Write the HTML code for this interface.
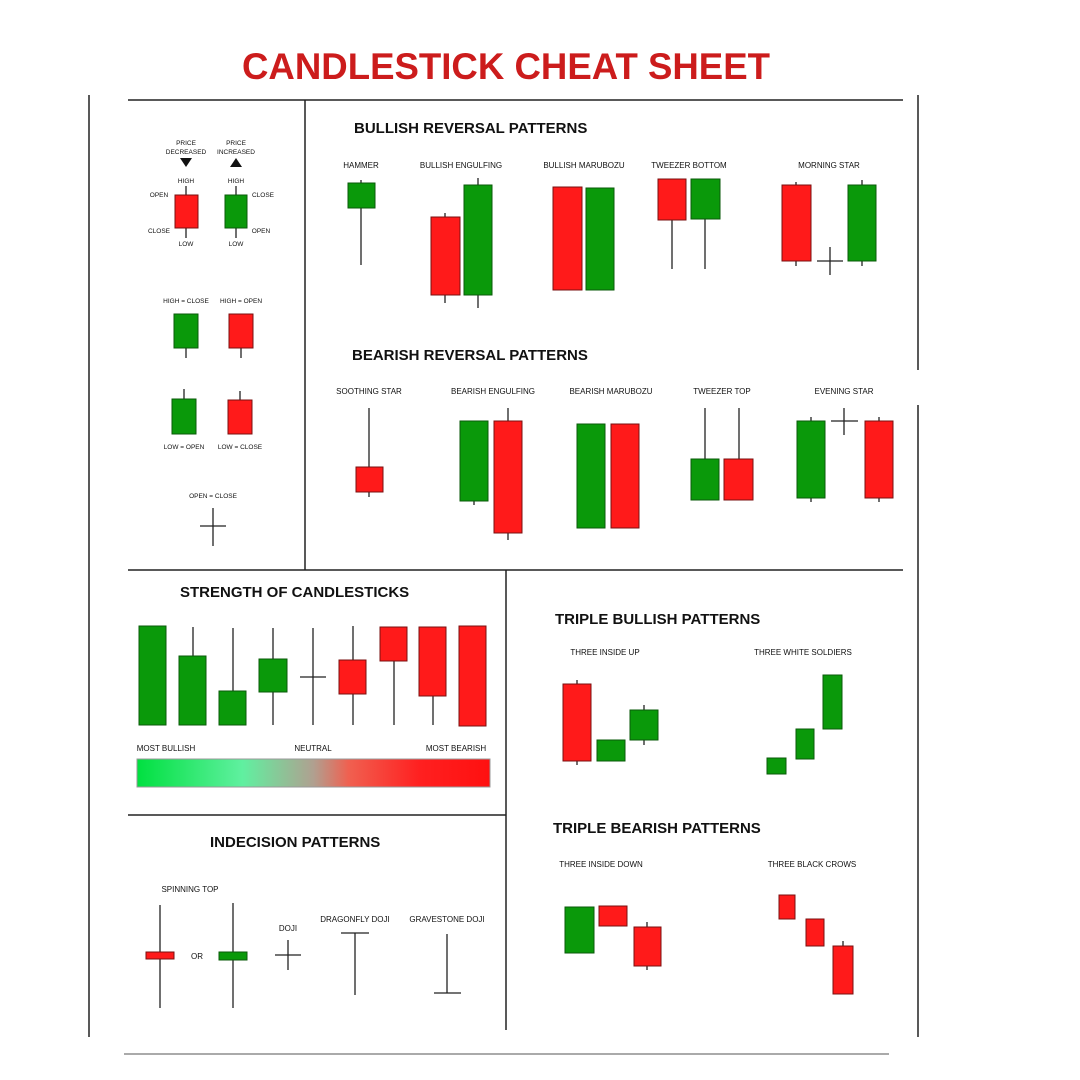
<!DOCTYPE html><html><head><style>body{margin:0;background:#fff}svg{display:block}text{font-family:"Liberation Sans",sans-serif}</style></head><body>
<svg width="1080" height="1080" viewBox="0 0 1080 1080">
<rect width="1080" height="1080" fill="#fff"/>
<text x="242" y="79" font-size="37" font-weight="bold" fill="#cc1c1c" textLength="528" lengthAdjust="spacingAndGlyphs">CANDLESTICK CHEAT SHEET</text>
<g stroke="#222" stroke-width="1.5">
<line x1="89" y1="95" x2="89" y2="1037"/><line x1="918" y1="95" x2="918" y2="370"/><line x1="918" y1="405" x2="918" y2="1037"/>
<line x1="128" y1="100" x2="903" y2="100"/><line x1="305" y1="100" x2="305" y2="570"/>
<line x1="128" y1="570" x2="903" y2="570"/><line x1="506" y1="570" x2="506" y2="1030"/>
<line x1="128" y1="815" x2="506" y2="815"/>
</g>
<line x1="124" y1="1054" x2="889" y2="1054" stroke="#aaa" stroke-width="2"/>
<defs><linearGradient id="g" x1="0" x2="1"><stop offset="0" stop-color="#00e040"/><stop offset="0.3" stop-color="#60f0a0"/><stop offset="0.5" stop-color="#b0a090"/><stop offset="0.6" stop-color="#f06050"/><stop offset="0.8" stop-color="#ff2020"/><stop offset="1" stop-color="#ff1010"/></linearGradient></defs>
<rect x="137" y="759" width="353" height="28" fill="url(#g)" stroke="#999"/>
<g font-weight="bold" fill="#111">
<text x="354" y="133" font-size="15">BULLISH REVERSAL PATTERNS</text>
<text x="352" y="360" font-size="15">BEARISH REVERSAL PATTERNS</text>
<text x="180" y="597" font-size="15">STRENGTH OF CANDLESTICKS</text>
<text x="555" y="624" font-size="15">TRIPLE BULLISH PATTERNS</text>
<text x="553" y="833" font-size="15">TRIPLE BEARISH PATTERNS</text>
<text x="210" y="847" font-size="15">INDECISION PATTERNS</text>
</g>
<g font-size="8" fill="#111" text-anchor="middle">
<text x="361" y="168">HAMMER</text><text x="461" y="168">BULLISH ENGULFING</text><text x="584" y="168">BULLISH MARUBOZU</text><text x="689" y="168">TWEEZER BOTTOM</text><text x="829" y="168">MORNING STAR</text>
<text x="369" y="394">SOOTHING STAR</text><text x="493" y="394">BEARISH ENGULFING</text><text x="611" y="394">BEARISH MARUBOZU</text><text x="722" y="394">TWEEZER TOP</text><text x="844" y="394">EVENING STAR</text>
<text x="166" y="751">MOST BULLISH</text><text x="313" y="751">NEUTRAL</text><text x="456" y="751">MOST BEARISH</text>
<text x="605" y="655">THREE INSIDE UP</text><text x="803" y="655">THREE WHITE SOLDIERS</text>
<text x="601" y="867">THREE INSIDE DOWN</text><text x="812" y="867">THREE BLACK CROWS</text>
<text x="190" y="892">SPINNING TOP</text><text x="197" y="959">OR</text><text x="288" y="931">DOJI</text><text x="355" y="922">DRAGONFLY DOJI</text><text x="447" y="922">GRAVESTONE DOJI</text>
</g>
<g font-size="6.5" fill="#111" text-anchor="middle">
<text x="186" y="145">PRICE</text><text x="186" y="154">DECREASED</text><text x="236" y="145">PRICE</text><text x="236" y="154">INCREASED</text>
<text x="186" y="183">HIGH</text><text x="236" y="183">HIGH</text><text x="186" y="246">LOW</text><text x="236" y="246">LOW</text>
<text x="159" y="197">OPEN</text><text x="159" y="233">CLOSE</text><text x="263" y="197">CLOSE</text><text x="261" y="233">OPEN</text>
<text x="186" y="303">HIGH = CLOSE</text><text x="241" y="303">HIGH = OPEN</text>
<text x="184" y="449">LOW = OPEN</text><text x="240" y="449">LOW = CLOSE</text><text x="213" y="498">OPEN = CLOSE</text>
</g>
<path d="M180 158h12l-6 9z M230 167h12l-6-9z" fill="#111"/>
<g stroke="#222" stroke-width="1.3">
<line x1="186" y1="186" x2="186" y2="238"/><line x1="236" y1="186" x2="236" y2="238"/>
<line x1="186" y1="314" x2="186" y2="358"/><line x1="241" y1="314" x2="241" y2="358"/>
<line x1="184" y1="389" x2="184" y2="434"/><line x1="240" y1="391" x2="240" y2="434"/>
<line x1="200" y1="526" x2="226" y2="526"/><line x1="213" y1="508" x2="213" y2="546"/>
<line x1="361" y1="180" x2="361" y2="265"/><line x1="445" y1="213" x2="445" y2="303"/><line x1="478" y1="178" x2="478" y2="308"/>
<line x1="672" y1="179" x2="672" y2="269"/><line x1="705" y1="179" x2="705" y2="269"/>
<line x1="796" y1="182" x2="796" y2="266"/><line x1="862" y1="180" x2="862" y2="266"/><line x1="817" y1="261" x2="843" y2="261"/><line x1="830" y1="247" x2="830" y2="275"/>
<line x1="369" y1="408" x2="369" y2="497"/><line x1="508" y1="408" x2="508" y2="540"/><line x1="474" y1="421" x2="474" y2="505"/>
<line x1="705" y1="408" x2="705" y2="459"/><line x1="739" y1="408" x2="739" y2="459"/>
<line x1="811" y1="417" x2="811" y2="502"/><line x1="879" y1="417" x2="879" y2="502"/><line x1="831" y1="421" x2="858" y2="421"/><line x1="844" y1="408" x2="844" y2="435"/>
<line x1="193" y1="627" x2="193" y2="725"/><line x1="233" y1="628" x2="233" y2="725"/><line x1="273" y1="628" x2="273" y2="725"/>
<line x1="300" y1="677" x2="326" y2="677"/><line x1="313" y1="628" x2="313" y2="725"/><line x1="353" y1="626" x2="353" y2="725"/><line x1="394" y1="627" x2="394" y2="725"/><line x1="433" y1="627" x2="433" y2="725"/>
<line x1="160" y1="905" x2="160" y2="1008"/><line x1="233" y1="903" x2="233" y2="1008"/>
<line x1="275" y1="955" x2="301" y2="955"/><line x1="288" y1="940" x2="288" y2="970"/>
<line x1="341" y1="933" x2="369" y2="933"/><line x1="355" y1="933" x2="355" y2="995"/>
<line x1="447" y1="934" x2="447" y2="993"/><line x1="434" y1="993" x2="461" y2="993"/>
<line x1="577" y1="680" x2="577" y2="765"/><line x1="644" y1="705" x2="644" y2="745"/><line x1="647" y1="922" x2="647" y2="970"/><line x1="843" y1="941" x2="843" y2="994"/>
</g>
<g fill="#ff1a1a" stroke="#7a1010" stroke-width="1">
<rect x="175" y="195" width="23" height="33"/><rect x="229" y="314" width="24" height="34"/><rect x="228" y="400" width="24" height="34"/>
<rect x="431" y="217" width="29" height="78"/><rect x="553" y="187" width="29" height="103"/><rect x="658" y="179" width="28" height="41"/><rect x="782" y="185" width="29" height="76"/>
<rect x="356" y="467" width="27" height="25"/><rect x="494" y="421" width="28" height="112"/><rect x="611" y="424" width="28" height="104"/><rect x="724" y="459" width="29" height="41"/><rect x="865" y="421" width="28" height="77"/>
<rect x="339" y="660" width="27" height="34"/><rect x="380" y="627" width="27" height="34"/><rect x="419" y="627" width="27" height="69"/><rect x="459" y="626" width="27" height="100"/>
<rect x="146" y="952" width="28" height="7"/>
<rect x="563" y="684" width="28" height="77"/><rect x="599" y="906" width="28" height="20"/><rect x="634" y="927" width="27" height="39"/>
<rect x="779" y="895" width="16" height="24"/><rect x="806" y="919" width="18" height="27"/><rect x="833" y="946" width="20" height="48"/>
</g>
<g fill="#0a990a" stroke="#0a5a0a" stroke-width="1">
<rect x="225" y="195" width="22" height="33"/><rect x="174" y="314" width="24" height="34"/><rect x="172" y="399" width="24" height="35"/>
<rect x="348" y="183" width="27" height="25"/><rect x="464" y="185" width="28" height="110"/><rect x="586" y="188" width="28" height="102"/><rect x="691" y="179" width="29" height="40"/><rect x="848" y="185" width="28" height="76"/>
<rect x="460" y="421" width="28" height="80"/><rect x="577" y="424" width="28" height="104"/><rect x="691" y="459" width="28" height="41"/><rect x="797" y="421" width="28" height="77"/>
<rect x="139" y="626" width="27" height="99"/><rect x="179" y="656" width="27" height="69"/><rect x="219" y="691" width="27" height="34"/><rect x="259" y="659" width="28" height="33"/>
<rect x="219" y="952" width="28" height="8"/>
<rect x="597" y="740" width="28" height="21"/><rect x="630" y="710" width="28" height="30"/>
<rect x="767" y="758" width="19" height="16"/><rect x="796" y="729" width="18" height="30"/><rect x="823" y="675" width="19" height="54"/>
<rect x="565" y="907" width="29" height="46"/>
</g>
</svg></body></html>
